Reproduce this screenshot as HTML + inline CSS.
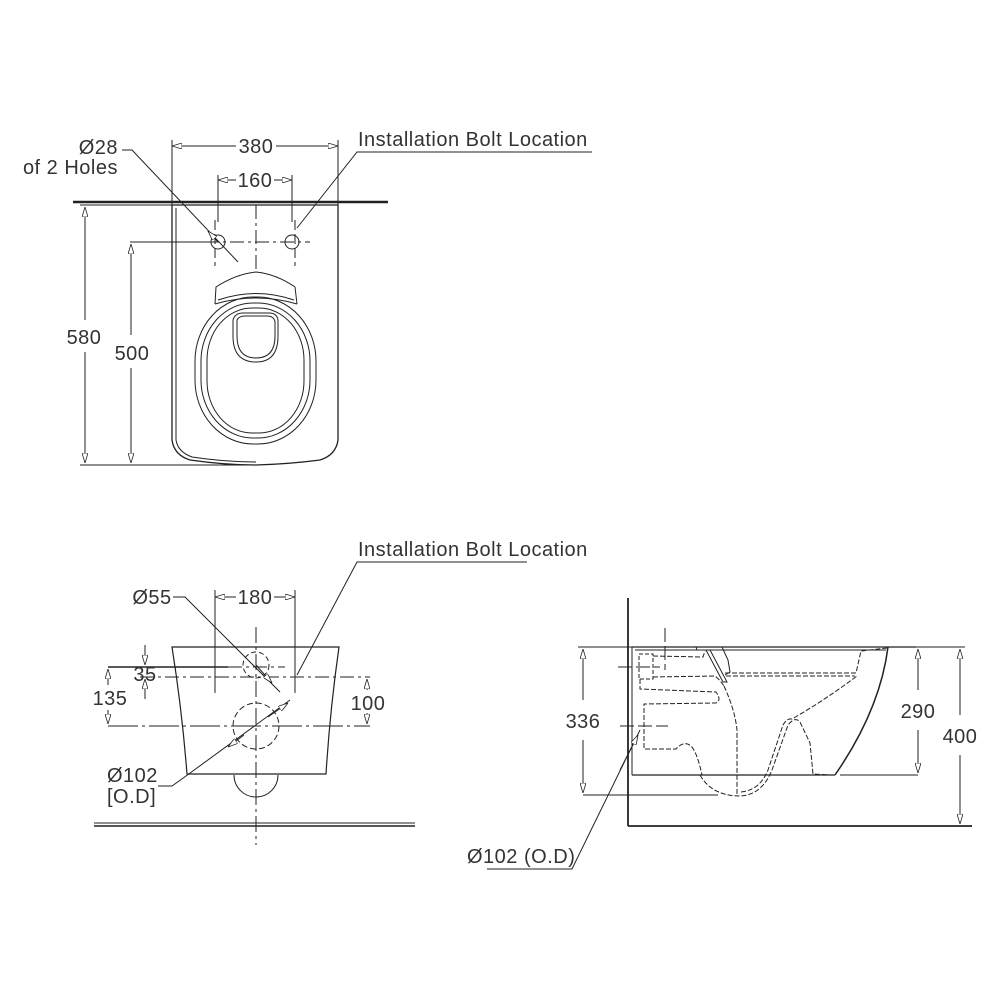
<!DOCTYPE html>
<html><head><meta charset="utf-8"><style>
html,body{margin:0;padding:0;background:#fff}
svg{display:block}
text{font-family:"Liberation Sans",sans-serif;font-size:20px;letter-spacing:0.5px;fill:#333}
</style></head><body>
<svg width="1000" height="1000" viewBox="0 0 1000 1000" xmlns="http://www.w3.org/2000/svg">
<defs>
<marker id="a" viewBox="0 0 10 6" refX="10" refY="3" markerWidth="10" markerHeight="6" orient="auto-start-reverse" markerUnits="userSpaceOnUse"><path d="M0,0 L10,3 L0,6 z" fill="#fff" stroke="#222" stroke-width="0.8"/></marker>
</defs>
<g fill="none" stroke="#222" stroke-width="1">
<!-- TOP VIEW -->
<line x1="73" y1="202" x2="388" y2="202" stroke-width="2.5"/>
<path d="M172,205 L172,440 Q174,455 190,460 Q225,465 256,465 Q290,464 320,460 Q336,455 338,440 L338,205 Z" stroke-width="1.3"/>
<path d="M176,208 L176,440 Q178,452 192,457 Q225,462 256,462" />
<line x1="256" y1="205" x2="256" y2="272" stroke-dasharray="14,4,3,4"/>
<line x1="130" y1="242" x2="310" y2="242" stroke-dasharray="14,4,3,4"/>
<circle cx="218" cy="242" r="7"/><circle cx="292" cy="242" r="7"/>
<line x1="215" y1="220" x2="215" y2="266" stroke-dasharray="10,4"/>
<line x1="295" y1="220" x2="295" y2="266" stroke-dasharray="10,4"/>
<!-- seat -->
<rect x="195" y="297" width="121" height="147" rx="58" ry="64"/>
<rect x="201" y="303" width="109" height="135" rx="52" ry="58"/>
<rect x="207" y="308" width="97" height="125" rx="45" ry="52"/>
<path d="M215,304 L216,287 Q236,274 256,272 Q276,274 295,287 L297,304"/>
<path d="M215,304 Q256,292 297,304"/>
<path d="M218,300 Q256,287 294,300"/>
<path d="M233,320 Q235,313 243,313 L269,313 Q277,313 278,320 L278,336 Q278,362 256,362 Q233,362 233,336 Z"/>
<path d="M237,320 Q239,316 245,316 L267,316 Q274,316 275,322 L275,336 Q275,358 256,358 Q237,358 237,336 Z"/>
<!-- dims -->
<line x1="172" y1="140" x2="172" y2="205"/><line x1="338" y1="140" x2="338" y2="205"/>
<line x1="172" y1="146" x2="236" y2="146" marker-start="url(#a)"/>
<line x1="276" y1="146" x2="338" y2="146" marker-end="url(#a)"/>
<line x1="218" y1="175" x2="218" y2="222"/><line x1="292" y1="175" x2="292" y2="222"/>
<line x1="218" y1="180" x2="236" y2="180" marker-start="url(#a)"/>
<line x1="274" y1="180" x2="292" y2="180" marker-end="url(#a)"/>
<line x1="80" y1="465" x2="256" y2="465"/>
<line x1="80" y1="205" x2="172" y2="205"/>
<line x1="85" y1="207" x2="85" y2="320" marker-start="url(#a)"/>
<line x1="85" y1="352" x2="85" y2="463" marker-end="url(#a)"/>
<line x1="131" y1="242" x2="215" y2="242"/>
<line x1="131" y1="244" x2="131" y2="335" marker-start="url(#a)"/>
<line x1="131" y1="368" x2="131" y2="463" marker-end="url(#a)"/>
<polyline points="122,150 132,150 238,262"/>
<line x1="218" y1="242" x2="208" y2="231" marker-end="url(#a)"/>
<polyline points="592,152 357,152 297,228"/>
<!-- FRONT VIEW -->
<path d="M172,647 L339,647 Q330,710 326,774 L187,774 Q182,710 172,647 Z" stroke-width="1.2"/>
<path d="M234,775 A22,22 0 0 0 278,775"/>
<line x1="256" y1="627" x2="256" y2="845" stroke-dasharray="16,4,3,4"/>
<circle cx="256" cy="665" r="13" stroke-dasharray="5,3"/>
<circle cx="256" cy="726" r="23" stroke-dasharray="6,3"/>
<line x1="94" y1="823" x2="415" y2="823"/><line x1="94" y1="826" x2="415" y2="826" stroke-width="1.6"/>
<line x1="215" y1="590" x2="215" y2="693"/><line x1="295" y1="590" x2="295" y2="693"/>
<line x1="215" y1="597" x2="236" y2="597" marker-start="url(#a)"/>
<line x1="274" y1="597" x2="295" y2="597" marker-end="url(#a)"/>
<line x1="108" y1="667" x2="228" y2="667" stroke-width="1.5"/>
<line x1="228" y1="667" x2="285" y2="667" stroke-dasharray="14,4,3,4"/>
<line x1="140" y1="677" x2="370" y2="677" stroke-dasharray="14,4,3,4"/>
<line x1="108" y1="726" x2="370" y2="726" stroke-dasharray="30,4,3,4"/>
<line x1="145" y1="645" x2="145" y2="665" marker-end="url(#a)"/>
<line x1="145" y1="699" x2="145" y2="679" marker-end="url(#a)"/>
<line x1="108" y1="669" x2="108" y2="685" marker-start="url(#a)"/>
<line x1="108" y1="710" x2="108" y2="724" marker-end="url(#a)"/>
<line x1="367" y1="679" x2="367" y2="690" marker-start="url(#a)"/>
<line x1="367" y1="713" x2="367" y2="724" marker-end="url(#a)"/>
<polyline points="173,597 185,597 280,692"/>
<line x1="256" y1="665" x2="272" y2="683" marker-end="url(#a)"/>
<polyline points="290,700 186,776 172,786 158,786"/>
<line x1="268" y1="717" x2="288" y2="703" marker-end="url(#a)"/>
<line x1="244" y1="735" x2="228" y2="747" marker-end="url(#a)"/>
<polyline points="527,562 357,562 297,675"/>
<!-- SIDE VIEW -->
<line x1="628" y1="598" x2="628" y2="826" stroke-width="1.8"/>
<line x1="632" y1="647" x2="632" y2="775"/>
<line x1="628" y1="826" x2="972" y2="826" stroke-width="1.8"/>
<line x1="632" y1="647" x2="916" y2="647" stroke-width="1.3"/>
<line x1="632" y1="775" x2="835" y2="775" stroke-width="1.3"/>
<line x1="840" y1="775" x2="918" y2="775"/>
<path d="M888,647 Q880,710 835,775" stroke-width="1.5"/>
<line x1="635" y1="650" x2="886" y2="650"/>
<!-- hinge -->
<path d="M696,647 L697,650 L706,650 L723,682 L727,682 L710,650"/>
<path d="M722,647 L728,660 L730,672 L725,675"/>
<!-- water line -->
<path d="M725,673 L856,673 L861,651 L887,648" stroke-dasharray="5,2"/>
<line x1="726" y1="676" x2="855" y2="676" stroke-dasharray="5,2"/>
<!-- left ducts -->
<rect x="639" y="654" width="14" height="25" stroke-dasharray="4,2"/>
<path d="M653,656 L703,657 L705,651 M653,677 L715,676 Q720,680 724,686 M640,679 L640,689 L716,692 Q722,700 716,703 L644,704 L644,749 L676,749 Q684,740 691,746 Q697,752 702,775" stroke-dasharray="5,2"/>
<path d="M724,686 Q735,710 737,730 L737,796" stroke-dasharray="5,2"/>
<!-- trap -->
<path d="M700,775 Q712,796 740,796 Q762,795 772,770 L788,725 Q795,716 800,722 L810,743 L813,774 L832,775" stroke-dasharray="5,2"/>
<path d="M741,792 Q760,790 768,770 L783,725 Q787,718 792,719 Q825,700 857,676" stroke-dasharray="5,2"/>
<line x1="665" y1="628" x2="665" y2="670" stroke-dasharray="14,4"/>
<line x1="618" y1="667" x2="660" y2="667" stroke-dasharray="14,4"/>
<line x1="620" y1="726" x2="668" y2="726" stroke-dasharray="14,4"/>
<line x1="578" y1="647" x2="632" y2="647"/>
<line x1="583" y1="795" x2="718" y2="795"/>
<line x1="583" y1="649" x2="583" y2="700" marker-start="url(#a)"/>
<line x1="583" y1="740" x2="583" y2="793" marker-end="url(#a)"/>
<line x1="918" y1="649" x2="918" y2="690" marker-start="url(#a)"/>
<line x1="918" y1="730" x2="918" y2="773" marker-end="url(#a)"/>
<line x1="916" y1="647" x2="965" y2="647"/>
<line x1="960" y1="649" x2="960" y2="715" marker-start="url(#a)"/>
<line x1="960" y1="755" x2="960" y2="824" marker-end="url(#a)"/>
<polyline points="487,869 572,869 640,730"/>
<line x1="620" y1="770" x2="638" y2="735" marker-end="url(#a)"/>
</g>
<text x="118" y="154" text-anchor="end">Ø28</text>
<text x="118" y="174" text-anchor="end">of 2 Holes</text>
<text x="256" y="153" text-anchor="middle">380</text>
<text x="255" y="187" text-anchor="middle">160</text>
<text x="358" y="146">Installation Bolt Location</text>
<text x="84" y="344" text-anchor="middle">580</text>
<text x="132" y="360" text-anchor="middle">500</text>
<text x="358" y="556">Installation Bolt Location</text>
<text x="152" y="604" text-anchor="middle">Ø55</text>
<text x="255" y="604" text-anchor="middle">180</text>
<text x="145" y="681" text-anchor="middle">35</text>
<text x="110" y="705" text-anchor="middle">135</text>
<text x="368" y="710" text-anchor="middle">100</text>
<text x="107" y="782">Ø102</text>
<text x="107" y="803">[O.D]</text>
<text x="583" y="728" text-anchor="middle">336</text>
<text x="918" y="718" text-anchor="middle">290</text>
<text x="960" y="743" text-anchor="middle">400</text>
<text x="467" y="863">Ø102 (O.D)</text>
</svg>
</body></html>
